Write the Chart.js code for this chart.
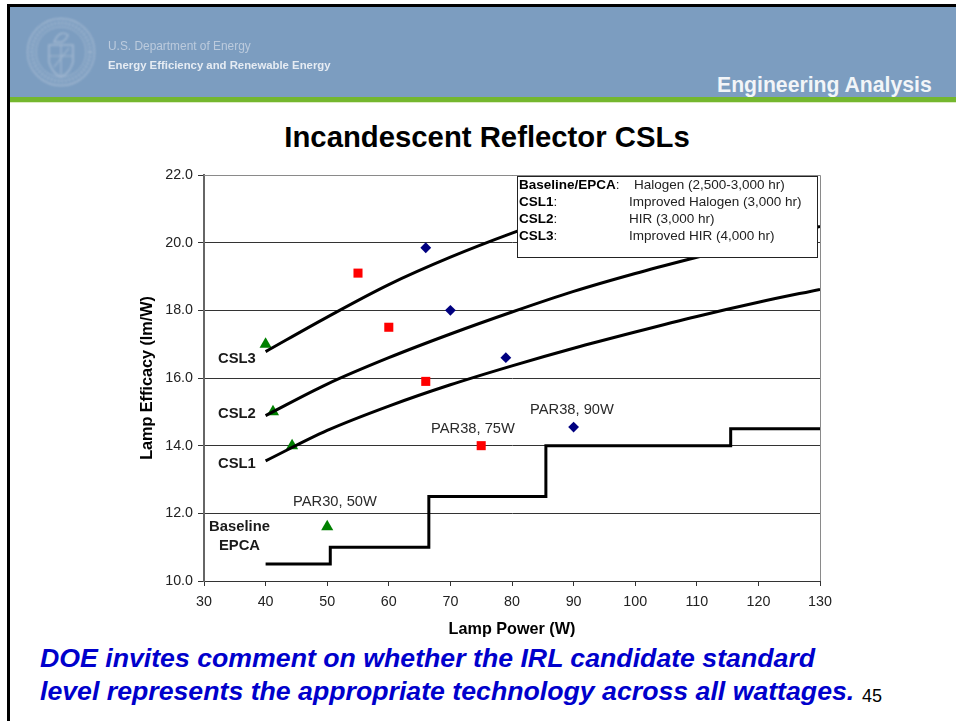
<!DOCTYPE html>
<html>
<head>
<meta charset="utf-8">
<script src="https://cdn.jsdelivr.net/npm/chart.js@4"></script>
<style>
html,body{margin:0;padding:0;background:#fff;width:956px;height:721px;overflow:hidden;font-family:"Liberation Sans",Arial,sans-serif}
#page{position:relative;width:956px;height:721px;overflow:hidden}
.a{position:absolute;white-space:nowrap}
#chartWrap{position:absolute;left:0;top:0;width:956px;height:721px}
</style>
</head>
<body>
<div id="page">
  <div class="a" style="left:7px;top:4px;width:949px;height:3px;background:#000"></div>
  <div class="a" style="left:7px;top:4px;width:3px;height:717px;background:#000"></div>
  <div class="a" style="left:10px;top:7px;width:946px;height:90px;background:#7c9dc0"></div>
  <div class="a" style="left:10px;top:97px;width:946px;height:5px;background:#74b72e"></div>
  <div class="a" style="left:10px;top:102px;width:946px;height:1px;background:#dcecc4"></div>
  <svg class="a" style="left:24px;top:15px;filter:blur(.8px);opacity:.85" width="76" height="76" viewBox="0 0 76 76" fill="none" stroke="#a9bdd4">
    <circle cx="37" cy="37" r="33.5" stroke-width="1.3"/>
    <circle cx="37" cy="37" r="29" stroke-width="4" stroke-dasharray="2 1.6" opacity=".7"/>
    <circle cx="37" cy="37" r="25" stroke-width="1"/>
    <path d="M25 30 H49 V47 Q46 58 37 62 Q28 58 25 47 Z" stroke-width="1.6"/>
    <path d="M25 41 H49 M37 30 V62 M30 52 L45 33" stroke-width="1.2"/>
    <path d="M30 27 Q36 14 44 20 Q42 25 38 27 Z" stroke-width="1.4"/>
  </svg>
  <div class="a" style="left:108px;top:39px;font-size:11.9px;line-height:14px;color:#bccbdd;filter:blur(.35px)">U.S. Department of Energy</div>
  <div class="a" style="left:108px;top:58px;font-size:11.35px;line-height:14px;font-weight:bold;color:#e6ecf3;filter:blur(.35px)">Energy Efficiency and Renewable Energy</div>
  <div class="a" style="left:717px;top:73px;font-size:21.2px;line-height:24px;font-weight:bold;color:#f2f5f8">Engineering Analysis</div>
  <div class="a" style="left:0;width:974px;text-align:center;top:121px;font-size:29.3px;line-height:32px;font-weight:bold;color:#000">Incandescent Reflector CSLs</div>
  <div class="a" style="left:40px;top:643px;font-size:26.7px;line-height:30px;font-weight:bold;font-style:italic;color:#0000cc">DOE invites comment on whether the IRL candidate standard</div>
  <div class="a" style="left:40px;top:676px;font-size:26.7px;line-height:30px;font-weight:bold;font-style:italic;color:#0000cc">level represents the appropriate technology across all wattages.</div>
  <div class="a" style="left:862px;top:685px;font-size:18px;line-height:22px;color:#000">45</div>
  <div id="chartWrap"><canvas id="c" width="956" height="721"></canvas></div>
</div>
<script>
const xAxisTitle = "Lamp Power (W)";
const yAxisTitle = "Lamp Efficacy (lm/W)";

const baselineWatts = [40, 50.5, 66.5, 85.5, 115.5, 130];
const baselineEff   = [10.5, 11, 12.5, 14, 14.5, 14.5];

const curveWatts = [40, 50, 60, 70, 80, 90, 100, 110, 120, 130];
const csl1Eff = [13.55, 14.45, 15.17, 15.8, 16.36, 16.88, 17.36, 17.82, 18.24, 18.62];
const csl2Eff = [14.89, 15.82, 16.6, 17.3, 17.95, 18.56, 19.09, 19.57, 20.03, 20.48];
const csl3Eff = [16.78, 17.8, 18.76, 19.57, 20.28, 20.92, 21.5, 22.03];

const diamondWatts = [66, 70, 79, 90];
const diamondEff   = [19.85, 18, 16.6, 14.55];
const squareWatts  = [55, 60, 66, 75];
const squareEff    = [19.1, 17.5, 15.9, 14];
const triangleWatts = [40, 41.2, 44.3, 50];
const triangleEff   = [17, 15, 14, 11.6];

const curveLabels = ["CSL3", "CSL2", "CSL1", "Baseline", "EPCA"];
const pointLabels = ["PAR30, 50W", "PAR38, 75W", "PAR38, 90W"];
const legendKeys = ["Baseline/EPCA", "CSL1", "CSL2", "CSL3"];
const legendValues = ["Halogen (2,500-3,000 hr)", "Improved Halogen (3,000 hr)", "HIR (3,000 hr)", "Improved HIR (4,000 hr)"];

const pairs = (xs, ys) => ys.map((y, i) => ({x: xs[i], y}));
const FONT = '"Liberation Sans", Arial, sans-serif';

const curve = (label, xs, ys) => ({label, data: pairs(xs, ys), showLine: true, borderColor: '#000', borderWidth: 3,
  pointRadius: 0, cubicInterpolationMode: 'monotone', borderCapStyle: 'butt'});
const marks = (label, xs, ys, style, color, r) => ({label, data: pairs(xs, ys), showLine: false, pointStyle: style,
  backgroundColor: color, borderColor: color, borderWidth: 0, pointRadius: r, pointHoverRadius: r});

const annotations = {
  id: 'annotations',
  afterDatasetsDraw(chart) {
    const {ctx, chartArea: a} = chart;
    ctx.save();
    // top and right frame of the plot
    ctx.strokeStyle = '#8a8a8a'; ctx.lineWidth = 1;
    ctx.beginPath(); ctx.moveTo(a.left, a.top + .5); ctx.lineTo(a.right + .5, a.top + .5); ctx.lineTo(a.right + .5, a.bottom); ctx.stroke();
    ctx.textBaseline = 'middle'; ctx.fillStyle = '#1a1a1a';
    // curve names
    ctx.font = 'bold 14.8px ' + FONT; ctx.textAlign = 'left';
    ctx.fillText(curveLabels[0], 218, 359);
    ctx.fillText(curveLabels[1], 218, 414);
    ctx.fillText(curveLabels[2], 218, 464);
    ctx.textAlign = 'center';
    ctx.fillText(curveLabels[3], 239.5, 527);
    ctx.fillText(curveLabels[4], 239.5, 546);
    // lamp labels
    ctx.font = '14.7px ' + FONT; ctx.fillStyle = '#2a2a2a';
    ctx.fillText(pointLabels[0], 335, 502);
    ctx.fillText(pointLabels[1], 473, 429);
    ctx.fillText(pointLabels[2], 572, 410);
    // definition box
    ctx.fillStyle = '#fff'; ctx.fillRect(517, 176, 300, 81);
    ctx.strokeStyle = '#222'; ctx.lineWidth = 1; ctx.strokeRect(517.5, 176.5, 300, 81);
    const rows = [185, 202, 219, 236.5];
    rows.forEach((y, i) => {
      ctx.textAlign = 'left'; ctx.fillStyle = '#000';
      ctx.font = 'bold 13.5px ' + FONT; ctx.fillText(legendKeys[i], 519, y);
      const w = ctx.measureText(legendKeys[i]).width;
      ctx.font = '13.5px ' + FONT; ctx.fillStyle = '#222'; ctx.fillText(':', 519 + w, y);
      ctx.fillText(legendValues[i], i === 0 ? 634 : 629, y);
    });
    ctx.restore();
  }
};

new Chart(document.getElementById('c'), {
  type: 'scatter',
  data: {datasets: [
    {label: 'Baseline EPCA', data: pairs(baselineWatts, baselineEff), showLine: true, stepped: 'before', borderColor: '#000', borderWidth: 3, pointRadius: 0},
    curve('CSL1', curveWatts, csl1Eff),
    curve('CSL2', curveWatts, csl2Eff),
    curve('CSL3', curveWatts, csl3Eff),
    marks('Diamond lamps', diamondWatts, diamondEff, 'rectRot', '#000080', 5.4),
    marks('Square lamps', squareWatts, squareEff, 'rect', '#ff0000', 6.4),
    marks('Triangle lamps', triangleWatts, triangleEff, 'triangle', '#008000', 7)
  ]},
  options: {
    responsive: false, animation: false,
    layout: {padding: {left: 138, right: 136, top: 175, bottom: 82}},
    plugins: {legend: {display: false}, title: {display: false}, tooltip: {enabled: false}},
    scales: {
      x: {
        type: 'linear', min: 30, max: 130,
        afterFit: s => { s.height = 58; },
        ticks: {stepSize: 10, color: '#222', font: {size: 14.3, family: FONT}, padding: 7, maxRotation: 0},
        grid: {drawOnChartArea: false, tickLength: 5, color: '#333'},
        border: {color: '#333', width: 1},
        title: {display: true, text: xAxisTitle, color: '#000', font: {size: 16.2, weight: 'bold', family: FONT}, padding: 0}
      },
      y: {
        type: 'linear', min: 10, max: 22,
        afterFit: s => { s.width = 66; },
        ticks: {stepSize: 2, color: '#222', font: {size: 14.3, family: FONT}, padding: 5, callback: v => v.toFixed(1)},
        grid: {color: '#333', lineWidth: 1, tickLength: 6},
        border: {color: '#666', width: 2},
        title: {display: true, text: yAxisTitle, color: '#000', font: {size: 16.2, weight: 'bold', family: FONT}, padding: 0}
      }
    }
  },
  plugins: [annotations]
});
</script>
</body>
</html>
